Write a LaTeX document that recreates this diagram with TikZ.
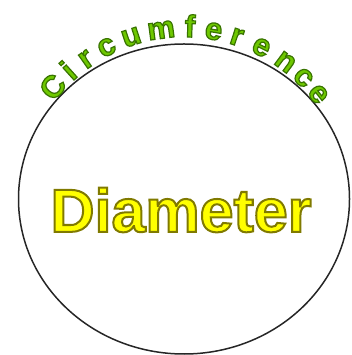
\documentclass[tikz,border=0pt]{standalone}
\usepackage{fontspec}
\setsansfont{Liberation Sans}
\usepackage{tikz}
\usetikzlibrary{calc}
\definecolor{leafgreen}{RGB}{110,200,0}
\definecolor{signyellow}{RGB}{255,255,0}
% filled text with a stroked edge: #1 stroke rgb, #2 width
\newcommand{\edged}[3]{\special{pdf:literal direct #1 RG #2 w 2 Tr}#3\special{pdf:literal direct 0 Tr}}

\begin{document}
\begin{tikzpicture}[
    x=1pt, y=1pt,
    rimletter/.style={anchor=base, inner sep=0pt, text=leafgreen,
                      font=\sffamily\bfseries\fontsize{31}{31}\selectfont},
    bigword/.style={inner sep=0pt, text=signyellow,
                    font=\sffamily\bfseries\fontsize{61}{61}\selectfont},
    rim/.style={draw=black!85, line width=1.5pt}
]
\useasboundingbox (0,0) rectangle (351,355);
\coordinate (mid) at (184,156);
\draw[rim] (mid) ellipse [x radius=165.5, y radius=155];
% letters round the top of the circle
\foreach \ch/\ang [count=\k] in {C/139.5,i/132,r/125,c/117,u/108,m/97.7,f/88,
                                 e/80,r/72,e/63,n/53.5,c/45.5,e/38} {
    \node[rimletter, rotate=\ang-90] (rim\k) at ($(mid)+(\ang:162)$)
        {\edged{0.22 0.45 0}{1.2}{\ch}};
}
\node[bigword] (diam) at (181,145) {\edged{0.5 0.48 0}{2}{Diameter}};
\end{tikzpicture}
\end{document}
